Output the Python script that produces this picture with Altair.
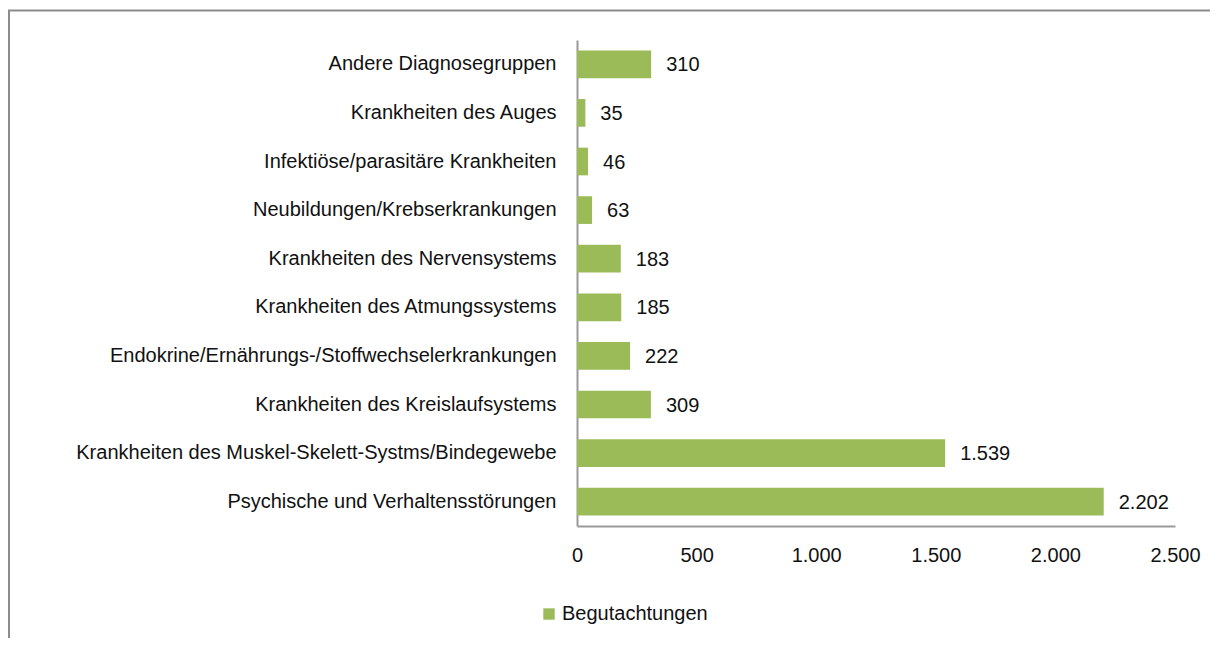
import altair as alt
import pandas as pd

categories = [
    "Andere Diagnosegruppen\u00a0",
    "Krankheiten des Auges",
    "Infektiöse/parasitäre Krankheiten",
    "Neubildungen/Krebserkrankungen",
    "Krankheiten des Nervensystems",
    "Krankheiten des Atmungssystems",
    "Endokrine/Ernährungs-/Stoffwechselerkrankungen",
    "Krankheiten des Kreislaufsystems",
    "Krankheiten des Muskel-Skelett-Systms/Bindegewebe",
    "Psychische und Verhaltensstörungen",
]
values = [310, 35, 46, 63, 183, 185, 222, 309, 1539, 2202]
series_name = "Begutachtungen"
x_ticks = [0, 500, 1000, 1500, 2000, 2500]

df = pd.DataFrame({"cat": categories, "val": values, "series": series_name})

FONT = "Liberation Sans, Arial, sans-serif"
FS = 20
GREEN = "#9BBB59"
AXIS_GRAY = "#9a9a9a"
FRAME_GRAY = "#8c8c8c"
TXT = "#111111"
DE_FMT = "replace(format(datum.value, ','), ',', '.')"

y_enc = alt.Y(
    "cat:N",
    sort=categories,
    scale=alt.Scale(paddingInner=0.43, paddingOuter=0.215),
    axis=alt.Axis(
        title=None, ticks=False, domainColor=AXIS_GRAY, domainWidth=2,
        labelFont=FONT, labelFontSize=FS, labelColor=TXT,
        labelPadding=21, labelLimit=600,
    ),
)
x_enc = alt.X(
    "val:Q",
    scale=alt.Scale(domain=[0, 2500], nice=False, zero=True),
    axis=alt.Axis(
        title=None, values=x_ticks, ticks=False, grid=False,
        domainColor=AXIS_GRAY, domainWidth=2,
        labelFont=FONT, labelFontSize=FS, labelColor=TXT,
        labelPadding=19, labelExpr=DE_FMT, labelFlush=False,
    ),
)

bars = alt.Chart(df).mark_bar().encode(
    y=y_enc,
    x=x_enc,
    color=alt.Color(
        "series:N",
        scale=alt.Scale(range=[GREEN]),
        legend=alt.Legend(
            title=None, orient="none", legendX=-38, legendY=564,
            symbolType="square", symbolSize=130, symbolStrokeWidth=0,
            labelFont=FONT, labelFontSize=FS, labelColor=TXT,
            labelOffset=3,
        ),
    ),
)

labels = alt.Chart(df).transform_calculate(
    lab="replace(format(datum.val, ','), ',', '.')"
).mark_text(
    align="left", baseline="middle", dx=15, dy=1, font=FONT, fontSize=FS, color=TXT
).encode(
    y=alt.Y("cat:N", sort=categories),
    x=alt.X("val:Q"),
    text="lab:N",
)

frame_data = alt.Data(values=[{"k": 1}])
frame_left = alt.Chart(frame_data).mark_rule(color=FRAME_GRAY, strokeWidth=2).encode(
    x=alt.value(-568), y=alt.value(-30), y2=alt.value(620)
)
frame_top = alt.Chart(frame_data).mark_rule(color=FRAME_GRAY, strokeWidth=2).encode(
    x=alt.value(-569), x2=alt.value(660), y=alt.value(-29.5)
)

chart = alt.layer(bars, labels, frame_left, frame_top).properties(
    width=598,
    height=486,
    autosize=alt.AutoSizeParams(type="none"),
    padding={"left": 569, "top": 32, "right": 35, "bottom": 112},
).configure_view(stroke=None)

chart.save("out.html", embed_options={"renderer": "svg", "actions": False})
